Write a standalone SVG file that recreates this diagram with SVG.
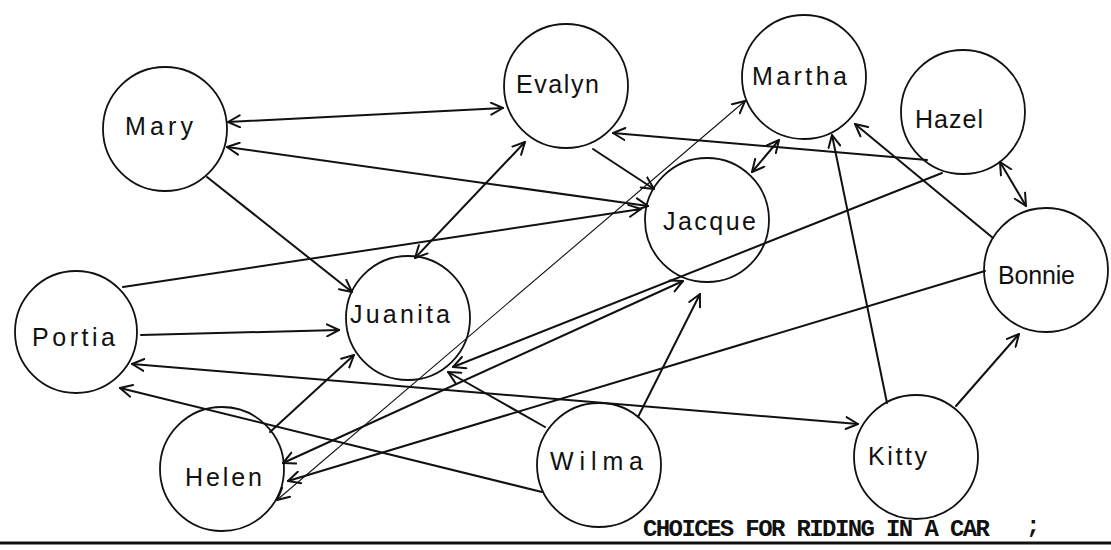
<svg xmlns="http://www.w3.org/2000/svg" width="1111" height="550" viewBox="0 0 1111 550">
<style>
  .node circle { fill: none; stroke: #111; stroke-width: 1.8; }
  .node text { font-family: "Liberation Sans", "DejaVu Sans", sans-serif; font-size: 25px; fill: #111; text-anchor: start; }
  .edge { fill: none; stroke: #111; stroke-width: 2; stroke-linecap: round; }
  .thin { stroke-width: 1.1; }
  .caption { font-family: "Liberation Mono", "Courier New", monospace; font-weight: bold; font-size: 24px; fill: #111; }
</style>
<defs>
  <marker id="arr" viewBox="0 0 14 14" refX="13" refY="7" markerWidth="14" markerHeight="14" markerUnits="userSpaceOnUse" orient="auto-start-reverse">
    <path d="M1,1 L13,7 L1,13" fill="none" stroke="#111" stroke-width="2" stroke-linecap="round" stroke-linejoin="round"/>
  </marker>
</defs>
<rect x="0" y="0" width="1111" height="550" fill="#fff"/>

<g id="connectors">
  <line class="edge" x1="228" y1="122" x2="503" y2="108" marker-start="url(#arr)" marker-end="url(#arr)"/>
  <line class="edge" x1="227" y1="147" x2="648" y2="206" marker-start="url(#arr)" marker-end="url(#arr)"/>
  <line class="edge" x1="207" y1="177" x2="352" y2="292" marker-end="url(#arr)"/>
  <line class="edge" x1="525" y1="142" x2="415" y2="258" marker-start="url(#arr)" marker-end="url(#arr)"/>
  <line class="edge" x1="593" y1="149" x2="654" y2="189" marker-end="url(#arr)"/>
  <line class="edge" x1="123" y1="287" x2="641" y2="209" marker-end="url(#arr)"/>
  <line class="edge" x1="141" y1="335" x2="339" y2="330" marker-end="url(#arr)"/>
  <line class="edge" x1="132" y1="364" x2="858" y2="424" marker-start="url(#arr)" marker-end="url(#arr)"/>
  <line class="edge" x1="542" y1="492" x2="120" y2="388" marker-end="url(#arr)"/>
  <line class="edge" x1="270" y1="432" x2="354" y2="355" marker-end="url(#arr)"/>
  <line class="edge" x1="545" y1="427" x2="448" y2="372" marker-end="url(#arr)"/>
  <line class="edge" x1="638" y1="417" x2="700" y2="294" marker-end="url(#arr)"/>
  <line class="edge" x1="942" y1="173" x2="453" y2="367" marker-end="url(#arr)"/>
  <line class="edge" x1="283" y1="463" x2="683" y2="281" marker-start="url(#arr)" marker-end="url(#arr)"/>
  <line class="edge" x1="985" y1="271" x2="288" y2="481" marker-end="url(#arr)"/>
  <line class="edge thin" x1="277" y1="500" x2="745" y2="101" marker-start="url(#arr)" marker-end="url(#arr)"/>
  <line class="edge" x1="927" y1="160" x2="613" y2="133" marker-end="url(#arr)"/>
  <line class="edge" x1="752" y1="172" x2="779" y2="140" marker-start="url(#arr)" marker-end="url(#arr)"/>
  <line class="edge" x1="887" y1="403" x2="832" y2="135" marker-end="url(#arr)"/>
  <line class="edge" x1="993" y1="238" x2="855" y2="124" marker-end="url(#arr)"/>
  <line class="edge" x1="1000" y1="162" x2="1026" y2="206" marker-start="url(#arr)" marker-end="url(#arr)"/>
  <line class="edge" x1="956" y1="406" x2="1019" y2="334" marker-end="url(#arr)"/>
</g>

<g id="mary" class="node"><circle cx="165" cy="129" r="62"/><text x="125" y="135" textLength="68">Mary</text></g>
<g id="evalyn" class="node"><circle cx="566" cy="86" r="62"/><text x="516" y="93" textLength="83">Evalyn</text></g>
<g id="martha" class="node"><circle cx="804" cy="77" r="62"/><text x="752" y="85" textLength="95">Martha</text></g>
<g id="hazel" class="node"><circle cx="963" cy="112" r="62"/><text x="915" y="128" textLength="68">Hazel</text></g>
<g id="jacque" class="node"><circle cx="707" cy="220" r="62"/><text x="663" y="230" textLength="93">Jacque</text></g>
<g id="bonnie" class="node"><circle cx="1046" cy="270" r="62"/><text x="998" y="284" textLength="77">Bonnie</text></g>
<g id="portia" class="node"><circle cx="76" cy="332" r="61"/><text x="32" y="346" textLength="83">Portia</text></g>
<g id="juanita" class="node"><circle cx="408" cy="318" r="62"/><text x="350" y="323" textLength="100">Juanita</text></g>
<g id="helen" class="node"><circle cx="222" cy="469" r="62"/><text x="185" y="486" textLength="77">Helen</text></g>
<g id="wilma" class="node"><circle cx="599" cy="465" r="62"/><text x="550" y="470" textLength="93">Wilma</text></g>
<g id="kitty" class="node"><circle cx="916" cy="457" r="62"/><text x="868" y="465" textLength="59">Kitty</text></g>

<text class="caption" x="643" y="536" textLength="347">CHOICES FOR RIDING IN A CAR</text>
<text class="caption" x="1026" y="533" font-size="13" font-weight="normal">;</text>
<line x1="0" y1="543" x2="1111" y2="543" stroke="#111" stroke-width="3"/>
</svg>
